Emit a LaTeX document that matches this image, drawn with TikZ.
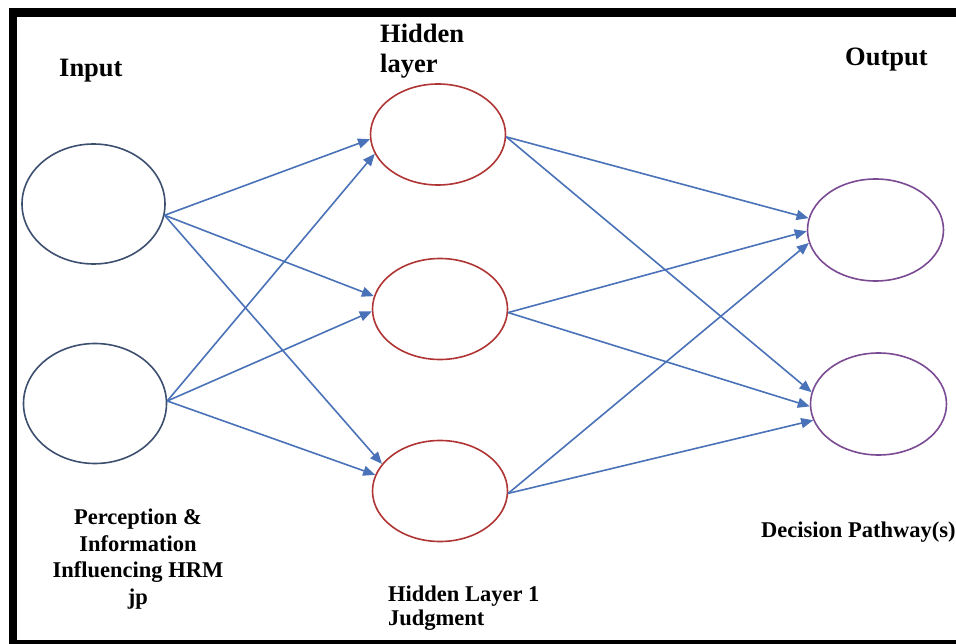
\documentclass[tikz,border=0pt]{standalone}
\usepackage{fontspec}
\setmainfont{Liberation Serif}
\usetikzlibrary{shapes.geometric,arrows.meta}

\definecolor{inputline}{HTML}{3D4F6E}
\definecolor{hiddenline}{HTML}{B03535}
\definecolor{outputline}{HTML}{7A4A93}
\definecolor{linkblue}{HTML}{4A72B8}

\tikzset{
  neuron/.style={ellipse, draw, line width=1.6pt, fill=white, inner sep=0pt},
  innode/.style={neuron, draw=inputline, minimum width=143pt, minimum height=120pt},
  hidnode/.style={neuron, draw=hiddenline, minimum width=135pt, minimum height=101pt},
  outnode/.style={neuron, draw=outputline, minimum width=136pt, minimum height=102pt},
  link/.style={draw=linkblue, line width=1.6pt, -{Triangle[length=12pt,width=10pt]}},
  heading/.style={font=\fontsize{26.5}{30}\selectfont\bfseries, inner sep=0pt},
  caption/.style={font=\fontsize{22.5}{26.5}\selectfont\bfseries, inner sep=0pt},
}

\begin{document}
\begin{tikzpicture}[x=1pt, y=-1pt]
  \useasboundingbox (0,0) rectangle (956,644);
  \fill[white] (0,0) rectangle (956,644);

  % outer frame
  \draw[line width=8.5pt] (13,12.5) -- (962,12.5);
  \draw[line width=8pt] (13,8.5) -- (13,650);
  \draw[line width=8pt] (9,644) -- (962,644);

  % neurons
  \node[innode] (i1) at (93.5,204) {};
  \node[innode] (i2) at (95,403.5) {};
  \node[hidnode] (h1) at (438,134.5) {};
  \node[hidnode] (h2) at (440,309) {};
  \node[hidnode] (h3) at (440,491) {};
  \node[outnode] (o1) at (875.5,230) {};
  \node[outnode] (o2) at (878.5,404) {};

  % input -> hidden
  \draw[link] (i1.351) -- (h1.184);
  \draw[link] (i1.351) -- (h2.169);
  \draw[link] (i1.351) -- (h3.155);
  \draw[link] (i2.2) -- (h1.197);
  \draw[link] (i2.2) -- (h2.182);
  \draw[link] (i2.2) -- (h3.166);

  % hidden -> output
  \draw[link] (h1.358) -- (o1.170);
  \draw[link] (h1.358) -- (o2.170);
  \draw[link] (h2.357) -- (o1.181);
  \draw[link] (h2.357) -- (o2.182);
  \draw[link] (h3.358) -- (o1.191);
  \draw[link] (h3.358) -- (o2.194);

  % layer headings (base anchor of a multi-line node = last line)
  \node[heading, anchor=base west] (tin) at (59,77) {Input};
  \node[heading, anchor=base west, align=left] (thid) at (380,73) {Hidden\\layer};
  \node[heading, anchor=base west] (tout) at (845,66) {Output};

  % captions
  \node[caption, anchor=base, align=center] (cin) at (138,604)
    {Perception \&\\Information\\Influencing HRM\\jp};
  \node[caption, anchor=base west, align=left, font=\fontsize{22.5}{24}\selectfont\bfseries] (chid) at (388,625)
    {Hidden Layer 1\\Judgment};
  \node[caption, anchor=base west] (cout) at (761,537) {Decision Pathway(s)};
\end{tikzpicture}
\end{document}
